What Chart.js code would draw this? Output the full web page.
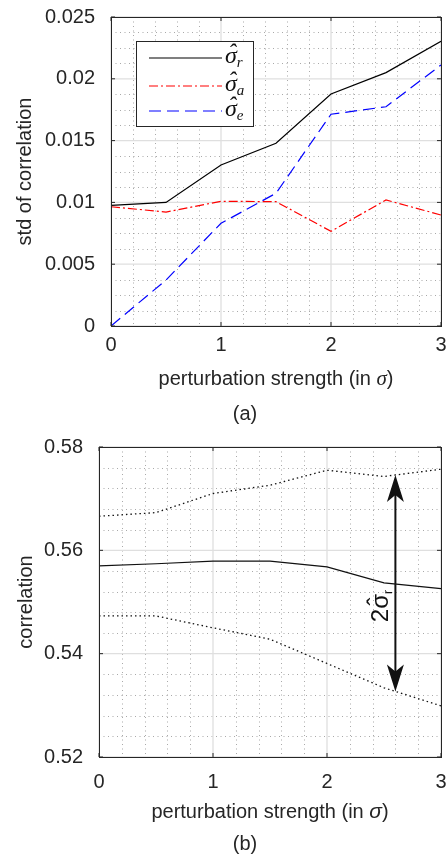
<!DOCTYPE html>
<html>
<head>
<meta charset="utf-8">
<script src="https://cdn.jsdelivr.net/npm/chart.js@4/dist/chart.umd.min.js"></script>
<style>
    html, body { margin: 0; padding: 0; background: #fff; }
    .panel { position: absolute; left: 0; width: 446px; }
    #panelA { top: 0; height: 430px; }
    #panelB { top: 430px; height: 427px; }
</style>
</head>
<body>
<div class="panel" id="panelA"><canvas id="chartA"></canvas></div>
<div class="panel" id="panelB"><canvas id="chartB"></canvas></div>
<script>
// perturbation strengths (in sigma)
const strengths = [0, 0.5, 1, 1.5, 2, 2.5, 3];

// (a) std of correlation
const sigmaR = [0.00976, 0.01000, 0.01303, 0.01478, 0.01877, 0.02050, 0.02303];
const sigmaA = [0.00965, 0.00922, 0.01009, 0.01006, 0.00766, 0.01020, 0.00898];
const sigmaE = [0.00000, 0.00372, 0.00831, 0.01074, 0.01713, 0.01774, 0.02112];

// (b) correlation, mean and +/- sigma_r band
const corrMean  = [0.5570, 0.5574, 0.5579, 0.5579, 0.5568, 0.5537, 0.5526];
const corrUpper = [0.5666, 0.5673, 0.5710, 0.5726, 0.5755, 0.5743, 0.5757];
const corrLower = [0.5473, 0.5473, 0.5450, 0.5428, 0.5381, 0.5334, 0.5299];

// tick labels
const strengthTicks = [0, 1, 2, 3];
const stdTicks = [0, 0.005, 0.01, 0.015, 0.02, 0.025];
const corrTicks = [0.52, 0.54, 0.56, 0.58];

// annotation arrow (data units)
const arrowAt = 2.6;
const arrowTop = 0.5746;
const arrowBottom = 0.5327;

(function () {
    'use strict';

    const SANS = '"Liberation Sans", Arial, Helvetica, sans-serif';
    const SERIF = '"Liberation Serif", "DejaVu Serif", serif';
    const INK = '#262626';

    function points(xs, ys) {
        return xs.map(function (x, i) { return { x: x, y: ys[i] }; });
    }

    // draws a row of text pieces with mixed fonts, optional hat accent
    function drawRuns(ctx, runs, x, y, align) {
        let total = 0;
        runs.forEach(function (r) {
            ctx.font = r.font;
            r.w = ctx.measureText(r.text).width;
            total += r.w;
        });
        let cx = align === 'center' ? x - total / 2 : x;
        ctx.textAlign = 'left';
        ctx.textBaseline = 'alphabetic';
        runs.forEach(function (r) {
            ctx.font = r.font;
            ctx.fillText(r.text, cx, y + (r.dy || 0));
            if (r.hat) {
                ctx.textAlign = 'center';
                ctx.fillText('\u02C6', cx + r.w / 2 + (r.hatDx || 0), y + (r.hatDy || 0));
                ctx.textAlign = 'left';
            }
            cx += r.w;
        });
    }

    function fixedTicks(values) {
        return function (scale) {
            scale.ticks = values.map(function (v) { return { value: v }; });
        };
    }

    // grid (major solid, minor dotted), box and inner tick marks
    function framePlugin(minor) {
        return {
            id: 'frame',
            beforeDatasetsDraw: function (chart) {
                const ctx = chart.ctx;
                const a = chart.chartArea;
                const sx = chart.scales.x;
                const sy = chart.scales.y;
                ctx.save();
                ctx.lineWidth = 1;
                ctx.strokeStyle = 'rgba(140,140,140,0.75)';
                ctx.setLineDash([1, 3.5]);
                const nx = Math.round((sx.max - sx.min) / minor.x);
                for (let i = 1; i < nx; i++) {
                    if (i % minor.xPer === 0) continue;
                    const px = Math.round(sx.getPixelForValue(sx.min + i * minor.x)) + 0.5;
                    ctx.beginPath(); ctx.moveTo(px, a.top); ctx.lineTo(px, a.bottom); ctx.stroke();
                }
                const ny = Math.round((sy.max - sy.min) / minor.y);
                for (let i = 1; i < ny; i++) {
                    if (i % minor.yPer === 0) continue;
                    const py = Math.round(sy.getPixelForValue(sy.min + i * minor.y)) + 0.5;
                    ctx.beginPath(); ctx.moveTo(a.left, py); ctx.lineTo(a.right, py); ctx.stroke();
                }
                ctx.setLineDash([]);
                ctx.strokeStyle = '#dfdfdf';
                ctx.lineWidth = 1.3;
                sx.ticks.forEach(function (t) {
                    const px = sx.getPixelForValue(t.value);
                    ctx.beginPath(); ctx.moveTo(px, a.top); ctx.lineTo(px, a.bottom); ctx.stroke();
                });
                sy.ticks.forEach(function (t) {
                    const py = sy.getPixelForValue(t.value);
                    ctx.beginPath(); ctx.moveTo(a.left, py); ctx.lineTo(a.right, py); ctx.stroke();
                });
                ctx.restore();
            },
            afterDatasetsDraw: function (chart) {
                const ctx = chart.ctx;
                const a = chart.chartArea;
                const sx = chart.scales.x;
                const sy = chart.scales.y;
                ctx.save();
                ctx.strokeStyle = INK;
                ctx.lineWidth = 1;
                sx.ticks.forEach(function (t) {
                    const px = sx.getPixelForValue(t.value);
                    ctx.beginPath();
                    ctx.moveTo(px, a.bottom); ctx.lineTo(px, a.bottom - 4);
                    ctx.moveTo(px, a.top); ctx.lineTo(px, a.top + 4);
                    ctx.stroke();
                });
                sy.ticks.forEach(function (t) {
                    const py = sy.getPixelForValue(t.value);
                    ctx.beginPath();
                    ctx.moveTo(a.left, py); ctx.lineTo(a.left + 4, py);
                    ctx.moveTo(a.right, py); ctx.lineTo(a.right - 4, py);
                    ctx.stroke();
                });
                ctx.strokeRect(Math.round(a.left) + 0.5, Math.round(a.top) + 0.5,
                    Math.round(a.right - a.left), Math.round(a.bottom - a.top));
                ctx.restore();
            }
        };
    }

    // axis titles and caption
    function labelsPlugin(opts) {
        return {
            id: 'labels',
            afterDraw: function (chart) {
                const ctx = chart.ctx;
                const a = chart.chartArea;
                ctx.save();
                ctx.fillStyle = INK;
                drawRuns(ctx, [
                    { text: 'perturbation strength (in ', font: '20px ' + SANS },
                    { text: '\u03C3', font: 'italic 21px ' + opts.sigmaFont },
                    { text: ')', font: '20px ' + SANS }
                ], (a.left + a.right) / 2, opts.xTitleY, 'center');

                ctx.font = '20px ' + SANS;
                ctx.textAlign = 'center';
                ctx.fillText(opts.caption, 245, opts.captionY);

                ctx.translate(opts.yTitleX, (a.top + a.bottom) / 2);
                ctx.rotate(-Math.PI / 2);
                ctx.textBaseline = 'middle';
                ctx.fillText(opts.yTitle, 0, 0);
                ctx.restore();
            }
        };
    }

    const legendPlugin = {
        id: 'boxLegend',
        afterDatasetsDraw: function (chart) {
            const ctx = chart.ctx;
            const subs = ['r', 'a', 'e'];
            const rows = [58, 86, 111];
            ctx.save();
            ctx.fillStyle = '#fff';
            ctx.fillRect(136, 41, 117, 85);
            ctx.strokeStyle = INK;
            ctx.lineWidth = 1;
            ctx.strokeRect(136.5, 41.5, 117, 85);
            chart.data.datasets.forEach(function (ds, i) {
                ctx.strokeStyle = ds.borderColor;
                ctx.lineWidth = ds.borderWidth;
                ctx.setLineDash(ds.borderDash || []);
                ctx.beginPath();
                ctx.moveTo(149, rows[i]);
                ctx.lineTo(222, rows[i]);
                ctx.stroke();
                ctx.setLineDash([]);
                ctx.fillStyle = '#111';
                drawRuns(ctx, [
                    { text: '\u03C3', font: 'italic 24px ' + SERIF, hat: true, hatDy: -3, hatDx: 1 },
                    { text: subs[i], font: 'italic 15px ' + SERIF, dy: 4 }
                ], 225, rows[i] + 5, 'left');
            });
            ctx.restore();
        }
    };

    const arrowPlugin = {
        id: 'twoSigmaArrow',
        afterDatasetsDraw: function (chart) {
            const ctx = chart.ctx;
            const sx = chart.scales.x;
            const sy = chart.scales.y;
            const px = sx.getPixelForValue(arrowAt);
            const top = sy.getPixelForValue(arrowTop);
            const bottom = sy.getPixelForValue(arrowBottom);
            ctx.save();
            ctx.strokeStyle = '#111';
            ctx.fillStyle = '#111';
            ctx.lineWidth = 2;
            ctx.beginPath();
            ctx.moveTo(px, top + 15);
            ctx.lineTo(px, bottom - 15);
            ctx.stroke();
            [[top, 1], [bottom, -1]].forEach(function (h) {
                const tip = h[0], d = h[1];
                ctx.beginPath();
                ctx.moveTo(px, tip);
                ctx.lineTo(px - 8.5, tip + d * 27);
                ctx.lineTo(px, tip + d * 20);
                ctx.lineTo(px + 8.5, tip + d * 27);
                ctx.closePath();
                ctx.fill();
            });
            ctx.translate(px - 7, (top + bottom) / 2 + 23);
            ctx.rotate(-Math.PI / 2);
            drawRuns(ctx, [
                { text: '2', font: '24px ' + SANS },
                { text: '\u03C3', font: '24px ' + SANS, hat: true, hatDy: -4 },
                { text: 'r', font: '12px ' + SANS, dy: 4 }
            ], 0, 0, 'center');
            ctx.restore();
        }
    };

    function baseOptions(cfg) {
        const tickFont = { family: SANS, size: 20 };
        return {
            responsive: true,
            maintainAspectRatio: false,
            animation: false,
            events: [],
            layout: { padding: { left: 0, right: 5, top: 17, bottom: 0 }, autoPadding: false },
            plugins: { legend: { display: false }, tooltip: { enabled: false } },
            elements: { point: { radius: 0 }, line: { tension: 0 } },
            scales: {
                x: {
                    type: 'linear',
                    min: 0,
                    max: 3,
                    grid: { display: false, drawTicks: false },
                    border: { display: false },
                    afterBuildTicks: fixedTicks(strengthTicks),
                    ticks: {
                        font: tickFont, color: INK, padding: cfg.xPad,
                        autoSkip: false, maxRotation: 0,
                        callback: function (v) { return String(v); }
                    },
                    afterFit: function (scale) {
                        scale.height = cfg.xHeight;
                        scale.paddingLeft = 0;
                        scale.paddingRight = 0;
                    }
                },
                y: {
                    type: 'linear',
                    min: cfg.yMin,
                    max: cfg.yMax,
                    grid: { display: false, drawTicks: false },
                    border: { display: false },
                    afterBuildTicks: fixedTicks(cfg.yTicks),
                    ticks: {
                        font: tickFont, color: INK, padding: 16,
                        autoSkip: false,
                        callback: function (v) { return String(parseFloat(v.toFixed(4))); }
                    },
                    afterFit: function (scale) {
                        scale.width = cfg.yWidth;
                        scale.paddingTop = 0;
                        scale.paddingBottom = 0;
                    }
                }
            }
        };
    }

    function initStdChart() {
        new Chart(document.getElementById('chartA'), {
            type: 'line',
            data: {
                datasets: [
                    { data: points(strengths, sigmaR), borderColor: '#000000', borderWidth: 1.2 },
                    { data: points(strengths, sigmaA), borderColor: '#ff0000', borderWidth: 1.2, borderDash: [9, 3, 2, 3] },
                    { data: points(strengths, sigmaE), borderColor: '#0000ff', borderWidth: 1.2, borderDash: [12, 6] }
                ]
            },
            options: baseOptions({ yMin: 0, yMax: 0.025, yTicks: stdTicks, yWidth: 111, xHeight: 104, xPad: 7 }),
            plugins: [
                framePlugin({ x: 0.2, xPer: 5, y: 0.00125, yPer: 4 }),
                legendPlugin,
                labelsPlugin({ yTitle: 'std of correlation', yTitleX: 25, xTitleY: 385, caption: '(a)', captionY: 420, sigmaFont: SERIF })
            ]
        });
    }

    function initCorrChart() {
        const band = { borderColor: '#111', borderWidth: 1.3, borderDash: [1.5, 3] };
        new Chart(document.getElementById('chartB'), {
            type: 'line',
            data: {
                datasets: [
                    { data: points(strengths, corrMean), borderColor: '#111', borderWidth: 1.2 },
                    Object.assign({ data: points(strengths, corrUpper) }, band),
                    Object.assign({ data: points(strengths, corrLower) }, band)
                ]
            },
            options: baseOptions({ yMin: 0.52, yMax: 0.58, yTicks: corrTicks, yWidth: 99, xHeight: 100, xPad: 13 }),
            plugins: [
                framePlugin({ x: 0.2, xPer: 5, y: 0.004, yPer: 5 }),
                arrowPlugin,
                labelsPlugin({ yTitle: 'correlation', yTitleX: 26, xTitleY: 388, caption: '(b)', captionY: 420, sigmaFont: SANS })
            ]
        });
    }

    initStdChart();
    initCorrChart();
})();
</script>
</body>
</html>
